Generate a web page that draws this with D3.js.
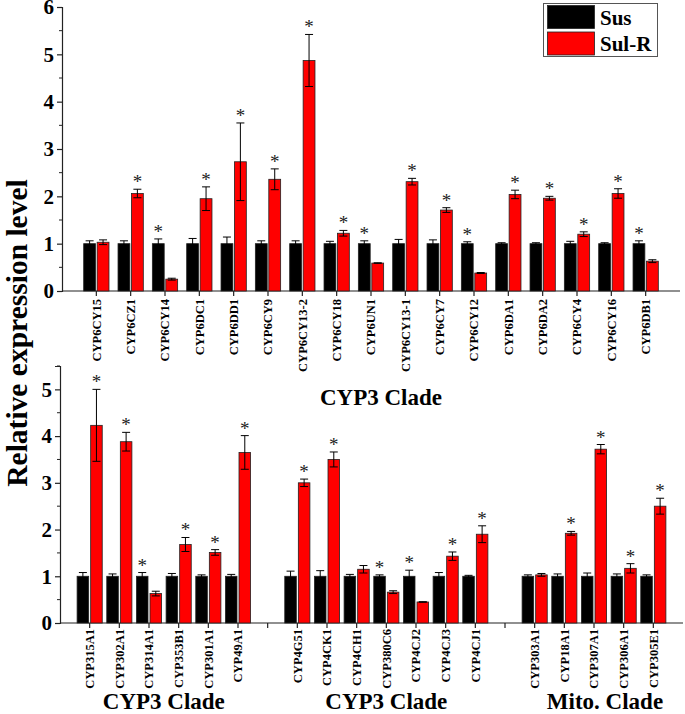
<!DOCTYPE html>
<html>
<head>
<meta charset="utf-8">
<script src="https://cdn.jsdelivr.net/npm/d3@7"></script>
<style>
  html, body { margin: 0; padding: 0; background: #fff; }
  svg { display: block; }
  text { font-family: "Liberation Serif", "Times New Roman", serif; }
</style>
</head>
<body>
<svg id="chart" width="685" height="714"></svg>
<script>
// ---------- DATA ----------
const topGenes = ["CYP6CY15","CYP6CZ1","CYP6CY14","CYP6DC1","CYP6DD1","CYP6CY9","CYP6CY13-2","CYP6CY18","CYP6UN1","CYP6CY13-1","CYP6CY7","CYP6CY12","CYP6DA1","CYP6DA2","CYP6CY4","CYP6CY16","CYP6DB1"];
const topSus    = [1,1,1,1,1,1,1,1,1,1,1,1,1,1,1,1,1];
const topSusErr = [0.06,0.06,0.10,0.11,0.14,0.06,0.06,0.05,0.06,0.09,0.08,0.04,0.02,0.02,0.05,0.02,0.06];
const topRes    = [1.03,2.06,0.25,1.95,2.73,2.36,4.87,1.22,0.59,2.31,1.71,0.38,2.04,1.96,1.20,2.06,0.63];
const topResErr = [0.05,0.09,0.02,0.25,0.82,0.22,0.55,0.06,0.005,0.07,0.05,0.01,0.09,0.04,0.05,0.10,0.03];
const topSig    = ["none","res","sus","res","res","res","res","res","sus","res","res","sus","res","res","res","res","sus"];

const cyp3Genes  = ["CYP315A1","CYP302A1","CYP314A1","CYP353B1","CYP301A1","CYP49A1"];
const cyp3Sus    = [1,1,1,1,1,1];
const cyp3SusErr = [0.08,0.05,0.08,0.06,0.03,0.04];
const cyp3Res    = [4.23,3.88,0.63,1.68,1.51,3.65];
const cyp3ResErr = [0.77,0.20,0.05,0.15,0.06,0.36];
const cyp3Sig    = ["res","res","sus","res","res","res"];

const cyp4Genes  = ["CYP4G51","CYP4CK1","CYP4CH1","CYP380C6","CYP4CJ2","CYP4CJ3","CYP4CJ1"];
const cyp4Sus    = [1,1,1,1,1,1,1];
const cyp4SusErr = [0.11,0.12,0.04,0.03,0.13,0.08,0.02];
const cyp4Res    = [3.00,3.50,1.15,0.66,0.45,1.43,1.90];
const cyp4ResErr = [0.08,0.16,0.08,0.03,0.005,0.09,0.18];
const cyp4Sig    = ["res","res","none","sus","sus","res","res"];

const mitoGenes  = ["CYP303A1","CYP18A1","CYP307A1","CYP306A1","CYP305E1"];
const mitoSus    = [1,1,1,1,1];
const mitoSusErr = [0.03,0.05,0.07,0.05,0.03];
const mitoRes    = [1.03,1.92,3.72,1.17,2.50];
const mitoResErr = [0.03,0.04,0.10,0.10,0.17];
const mitoSig    = ["none","res","res","res","res"];

const topTicks = [0,1,2,3,4,5,6];
const bottomTicks = [0,1,2,3,4,5];
const seriesNames = ["Sus","Sul-R"];
const seriesColors = ["#000000","#ff0000"];
const cladeLabels = ["CYP3 Clade","CYP3 Clade","CYP3 Clade","Mito. Clade"];
const yTitle = "Relative expression level";

// ---------- BUILD ROWS ----------
function rows(genes, sus, susErr, res, resErr, sig) {
  return genes.map((g, i) => ({gene: g, sus: sus[i], susErr: susErr[i], res: res[i], resErr: resErr[i], sig: sig[i]}));
}
const topRows = rows(topGenes, topSus, topSusErr, topRes, topResErr, topSig);
const bottomRows = [].concat(
  rows(cyp3Genes, cyp3Sus, cyp3SusErr, cyp3Res, cyp3ResErr, cyp3Sig),
  rows(cyp4Genes, cyp4Sus, cyp4SusErr, cyp4Res, cyp4ResErr, cyp4Sig),
  rows(mitoGenes, mitoSus, mitoSusErr, mitoRes, mitoResErr, mitoSig)
);
const bottomDomain = [].concat(cyp3Genes, ["__gap1"], cyp4Genes, ["__gap2"], mitoGenes);

const svg = d3.select("#chart");
const axisColor = "#222";

function drawPanel(opt) {
  const g = svg.append("g");
  const x = d3.scaleBand().domain(opt.domain).range([opt.x0, opt.x1]).paddingInner(0).paddingOuter(0.5);
  const y = d3.scaleLinear().domain([0, opt.ymax]).range([opt.y0, opt.y1]);
  const step = x.step();
  const bw = step * opt.bwFrac;
  const gap = opt.gap;
  const cx = d => x(d.gene) + x.bandwidth() / 2;

  // y axis
  const yAxis = d3.axisLeft(y).tickValues(opt.ticks).tickFormat(d3.format("d")).tickSize(5).tickPadding(3);
  const ya = g.append("g").attr("transform", `translate(${opt.x0},0)`).call(yAxis);
  ya.select(".domain").attr("stroke", axisColor).attr("stroke-width", 1.2);
  ya.selectAll(".tick line").attr("stroke", axisColor).attr("stroke-width", 1.2);
  ya.selectAll(".tick text").attr("font-size", 21).attr("font-weight", "bold").attr("fill", "#000")
    .attr("font-family", "Liberation Serif, serif");
  // minor ticks
  const minor = d3.range(0.5, opt.ymax + 0.001, 1);
  g.append("g").selectAll("line").data(minor).join("line")
    .attr("x1", opt.x0 - 3).attr("x2", opt.x0)
    .attr("y1", d => y(d)).attr("y2", d => y(d))
    .attr("stroke", axisColor).attr("stroke-width", 1);

  // x axis
  const xAxis = d3.axisBottom(x).tickSize(5).tickFormat(d => d.startsWith("__") ? "" : d);
  const xa = g.append("g").attr("transform", `translate(0,${opt.y0})`).call(xAxis);
  xa.select(".domain").attr("stroke", axisColor).attr("stroke-width", 1.2).attr("d", `M${opt.x0},0H${opt.x1}`);
  xa.selectAll(".tick line").attr("stroke", axisColor).attr("stroke-width", 1.2);
  xa.selectAll(".tick text")
    .attr("font-size", opt.labelSize).attr("font-weight", "bold").attr("fill", "#000")
    .attr("font-family", "Liberation Serif, serif")
    .attr("text-anchor", "end")
    .attr("transform", "rotate(-90)")
    .attr("x", -opt.labelGap).attr("y", 0).attr("dy", "0.35em");

  const data = opt.rows;
  // bars
  g.append("g").selectAll("rect.sus").data(data).join("rect")
    .attr("x", d => cx(d) - gap / 2 - bw).attr("width", bw)
    .attr("y", d => y(d.sus)).attr("height", d => y(0) - y(d.sus))
    .attr("fill", seriesColors[0]).attr("stroke", "#222").attr("stroke-width", 0.8);
  g.append("g").selectAll("rect.res").data(data).join("rect")
    .attr("x", d => cx(d) + gap / 2).attr("width", bw)
    .attr("y", d => y(d.res)).attr("height", d => y(0) - y(d.res))
    .attr("fill", seriesColors[1]).attr("stroke", "#222").attr("stroke-width", 0.8);

  // error bars
  const err = [];
  data.forEach(d => {
    err.push({c: cx(d) - gap / 2 - bw / 2, v: d.sus, e: d.susErr});
    err.push({c: cx(d) + gap / 2 + bw / 2, v: d.res, e: d.resErr});
  });
  const cap = 4;
  const eg = g.append("g").attr("stroke", "#000").attr("stroke-width", 1).attr("fill", "none");
  eg.selectAll("path").data(err).join("path")
    .attr("d", d => {
      const t = y(d.v + d.e), b = y(d.v - d.e);
      return `M${d.c},${t}V${b}M${d.c - cap},${t}H${d.c + cap}M${d.c - cap},${b}H${d.c + cap}`;
    });

  // significance stars
  const stars = [];
  data.forEach(d => {
    if (d.sig === "sus") stars.push({c: cx(d) - gap / 2 - bw / 2, top: d.sus + d.susErr});
    if (d.sig === "res") stars.push({c: cx(d) + gap / 2 + bw / 2, top: d.res + d.resErr});
  });
  g.append("g").selectAll("text").data(stars).join("text")
    .attr("x", d => d.c).attr("y", d => y(d.top) - 1)
    .attr("text-anchor", "middle").attr("font-size", 19).attr("fill", "#222")
    .text("*");
  return {x, y};
}

const topP = drawPanel({
  domain: topGenes, rows: topRows, x0: 62, x1: 680, y0: 291, y1: 7, ymax: 6,
  ticks: topTicks, bwFrac: 0.345, gap: 1.6, labelSize: 12.5, labelGap: 8
});
const botP = drawPanel({
  domain: bottomDomain, rows: bottomRows, x0: 60, x1: 683, y0: 623, y1: 366, ymax: 5.5,
  ticks: bottomTicks, bwFrac: 0.39, gap: 2, labelSize: 12.5, labelGap: 6
});

// clade labels
const cladeFont = {size: 23, weight: "bold"};
function cladeCenter(sc, genes) {
  const a = sc(genes[0]) + sc.bandwidth() / 2, b = sc(genes[genes.length - 1]) + sc.bandwidth() / 2;
  return (a + b) / 2;
}
const cladePos = [
  {x: 381, y: 405},
  {x: cladeCenter(botP.x, cyp3Genes), y: 709},
  {x: cladeCenter(botP.x, cyp4Genes), y: 709},
  {x: cladeCenter(botP.x, mitoGenes) + 11, y: 709}
];
svg.append("g").selectAll("text").data(cladePos).join("text")
  .attr("x", d => d.x).attr("y", d => d.y)
  .attr("text-anchor", "middle").attr("font-size", cladeFont.size).attr("font-weight", "bold")
  .text((d, i) => cladeLabels[i]);

// y title
svg.append("text")
  .attr("transform", "translate(27,333) rotate(-90)")
  .attr("text-anchor", "middle").attr("font-size", 29.5).attr("font-weight", "bold")
  .text(yTitle);

// legend
const lg = svg.append("g");
lg.append("rect").attr("x", 543.5).attr("y", 3.5).attr("width", 114).attr("height", 53)
  .attr("fill", "#fff").attr("stroke", "#555").attr("stroke-width", 1);
seriesNames.forEach((n, i) => {
  lg.append("rect").attr("x", 547.5).attr("y", 5.5 + i * 26.5).attr("width", 47).attr("height", 23)
    .attr("fill", seriesColors[i]).attr("stroke", "#222").attr("stroke-width", 0.8);
  lg.append("text").attr("x", 600).attr("y", 25 + i * 25.5)
    .attr("font-size", 21).attr("font-weight", "bold").text(n);
});
</script>
</body>
</html>
